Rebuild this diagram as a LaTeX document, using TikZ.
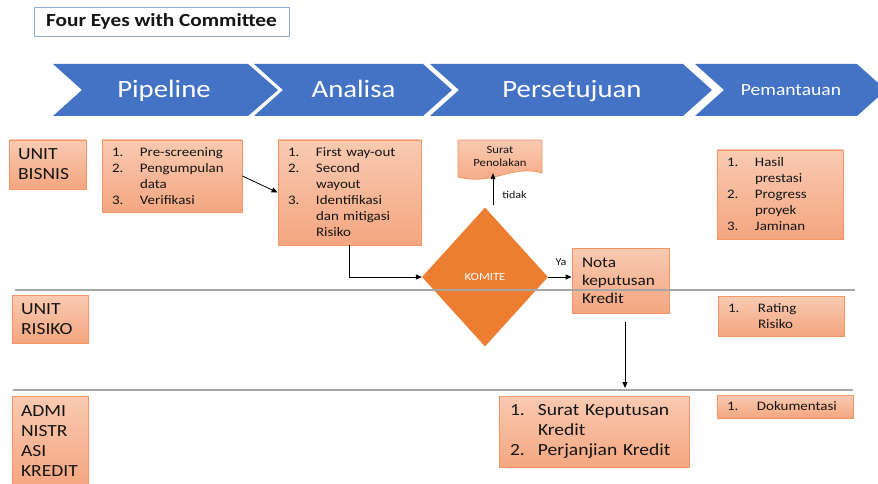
\documentclass[tikz,border=0pt]{standalone}
\usepackage{fontspec}
\setmainfont{Carlito}[FakeStretch=1.15]
\usetikzlibrary{shapes.geometric,arrows.meta}

\definecolor{chevblue}{RGB}{68,114,196}
\definecolor{boxtop}{RGB}{249,202,178}
\definecolor{boxbot}{RGB}{244,166,128}
\definecolor{boxline}{RGB}{244,150,100}
\definecolor{komorange}{RGB}{237,125,49}
\definecolor{titleline}{RGB}{143,170,220}
\definecolor{txt}{RGB}{20,20,20}

\newcommand{\li}[2]{\makebox[28pt][l]{#1}#2}

\tikzset{
  orangebox/.style={draw=boxline, line width=0.8pt, top color=boxtop, bottom color=boxbot, text=txt, align=left, inner xsep=10pt, inner ysep=0pt},
  smalltext/.style={font=\fontsize{13}{16}\selectfont},
  bigtext/.style={font=\fontsize{17}{20}\selectfont},
  chevtext/.style={text=white, anchor=base, font=\fontsize{25}{30}\selectfont},
  lane/.style={draw=gray!70, line width=1.6pt},
  arr/.style={-{Triangle[length=6pt,width=5pt]}, line width=0.8pt, black},
}

\begin{document}
\begin{tikzpicture}[x=1pt,y=1pt,yscale=-1,xscale=1]
\useasboundingbox (0,0) rectangle (878,484);

%Title
\node[draw=titleline, line width=0.8pt, fill=white, minimum width=255, minimum height=29, text=txt, font=\fontsize{18.5}{22}\selectfont\bfseries] (title) at (161.5,21.5) {Four Eyes with Committee};

%Shape: Chevrons
\fill[chevblue] (53,64) -- (248,64) -- (278,90) -- (248,116) -- (53,116) -- (82,90) -- cycle;
\fill[chevblue] (254,64) -- (423,64) -- (452,90) -- (423,116) -- (254,116) -- (283,90) -- cycle;
\fill[chevblue] (430,64) -- (683,64) -- (712,90) -- (683,116) -- (430,116) -- (459,90) -- cycle;
\fill[chevblue] (695,64) -- (857,64) -- (886,90) -- (857,116) -- (695,116) -- (724,90) -- cycle;
\node[chevtext] (pipeline) at (164,98) {Pipeline};
\node[chevtext] (analisa) at (353.5,98) {Analisa};
\node[chevtext] (persetujuan) at (572,98) {Persetujuan};
\node[chevtext, font=\fontsize{17}{20}\selectfont] (pemantauan) at (791,96) {Pemantauan};

%Lane labels
\node[orangebox, bigtext, inner xsep=9pt, text width=59, minimum height=49] (bisnis) at (47.5,164.5) {UNIT\\BISNIS};
\node[orangebox, bigtext, inner xsep=9pt, text width=58, minimum height=48] (risiko) at (50,319) {UNIT\\RISIKO};
\node[orangebox, bigtext, inner xsep=9pt, text width=58, minimum height=90] (admin) at (50,441) {ADMI\\NISTR\\ASI\\KREDIT};

%Boxes
\node[orangebox, smalltext, text width=120, minimum height=72] (pipe) at (172,176)
  {\li{1.}{Pre-screening}\\\li{2.}{Pengumpulan}\\\li{}{data}\\\li{3.}{Verifikasi}};
\node[orangebox, smalltext, text width=123, minimum height=105] (anal) at (349.5,192.5)
  {\li{1.}{First way-out}\\\li{2.}{Second}\\\li{}{wayout}\\\li{3.}{Identifikasi}\\\li{}{dan mitigasi}\\\li{}{Risiko}};
\node[orangebox, font=\fontsize{15}{18}\selectfont, text width=77, minimum height=65] (nota) at (620.5,280.5) {Nota\\keputusan\\Kredit};
\node[orangebox, bigtext, inner xsep=11pt, text width=168, minimum height=71] (sk) at (594,431.5)
  {\li{1.}{Surat Keputusan}\\\li{}{Kredit}\\\li{2.}{Perjanjian Kredit}};
\node[orangebox, smalltext, text width=106, minimum height=89] (hasil) at (780,194.5)
  {\li{1.}{Hasil}\\\li{}{prestasi}\\\li{2.}{Progress}\\\li{}{proyek}\\\li{3.}{Jaminan}};
\node[orangebox, smalltext, text width=106, minimum height=40] (rating) at (781,316)
  {\makebox[30pt][l]{1.}Rating\\\makebox[30pt][l]{}Risiko};
\node[orangebox, smalltext, text width=116, minimum height=23] (doku) at (785,406.5)
  {\makebox[30pt][l]{1.}Dokumentasi};

%Shape: Document
\path[draw=boxline, line width=0.8pt, top color=boxtop, bottom color=boxbot] (458,140) -- (542,140) -- (542,173) .. controls (512,164) and (494,186) .. (458,177) -- cycle;
\node[text=txt, align=center, minimum width=84, minimum height=33, inner sep=0pt, font=\fontsize{11}{13}\selectfont] (tolak) at (500,156.5) {Surat\\Penolakan};

%Shape: Diamond
\node[diamond, fill=komorange, minimum width=126, minimum height=139, inner sep=0pt, text=white, font=\fontsize{11}{13}\selectfont] (komite) at (485,277) {KOMITE};

%Straight Lines
\coordinate (tidakstart) at (493,205);
\coordinate (notadown) at (625,322);
\coordinate (skup) at (625,388);
\draw[arr] (pipe.east) -- (anal.west);
\draw[arr] (anal.south) |- (komite.west);
\draw[arr] (tidakstart) -- (tidakstart |- tolak.south);
\draw[arr] (komite.east) -- (komite.east -| nota.west);
\draw[arr] (notadown) -- (skup);
\node[text=txt, font=\fontsize{10.5}{12}\selectfont] (tidak) at (514.5,195) {tidak};
\node[text=txt, font=\fontsize{10.5}{12}\selectfont] (ya) at (561,262) {Ya};

%Lanes
\draw[lane] (15,290) -- (855,290);
\draw[lane] (13,390) -- (853,390);

\end{tikzpicture}
\end{document}
